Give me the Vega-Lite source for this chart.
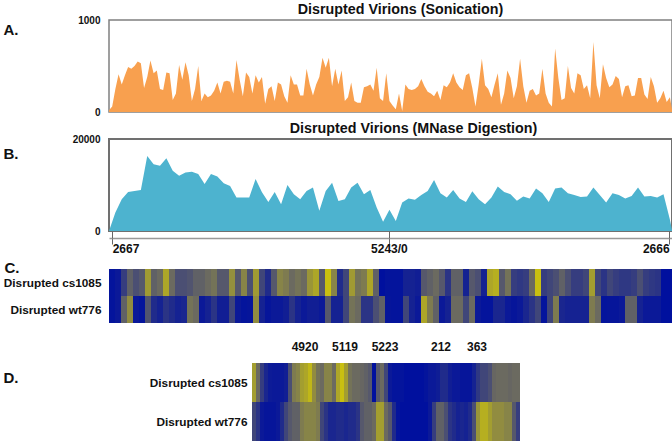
{"$schema":"https://vega.github.io/schema/vega-lite/v6.json","padding":{"left":2,"top":1,"right":1,"bottom":0},"background":"white","spacing":2,"bounds":"full","align":"none","config":{"font":"Liberation Sans","axis":{"labelFontWeight":"bold","labelColor":"#111","titleColor":"#111","grid":false,"labelFont":"Liberation Sans","titleFont":"Liberation Sans"},"title":{"font":"Liberation Sans","fontWeight":"bold","fontSize":14.3,"color":"#111"}},"datasets":{"a":[{"x":-30,"v":20},{"x":0,"v":60},{"x":30,"v":250},{"x":60,"v":410},{"x":90,"v":300},{"x":120,"v":400},{"x":150,"v":490},{"x":180,"v":470},{"x":210,"v":500},{"x":240,"v":550},{"x":270,"v":530},{"x":300,"v":260},{"x":330,"v":380},{"x":360,"v":560},{"x":390,"v":420},{"x":420,"v":450},{"x":450,"v":250},{"x":480,"v":240},{"x":510,"v":430},{"x":540,"v":420},{"x":570,"v":130},{"x":600,"v":200},{"x":630,"v":510},{"x":660,"v":350},{"x":690,"v":540},{"x":720,"v":400},{"x":750,"v":120},{"x":780,"v":250},{"x":810,"v":500},{"x":840,"v":120},{"x":870,"v":200},{"x":900,"v":160},{"x":930,"v":180},{"x":960,"v":230},{"x":990,"v":320},{"x":1020,"v":200},{"x":1050,"v":330},{"x":1080,"v":340},{"x":1110,"v":330},{"x":1140,"v":200},{"x":1170,"v":565},{"x":1200,"v":350},{"x":1230,"v":170},{"x":1260,"v":430},{"x":1290,"v":380},{"x":1320,"v":200},{"x":1350,"v":400},{"x":1380,"v":320},{"x":1410,"v":380},{"x":1440,"v":90},{"x":1470,"v":250},{"x":1500,"v":280},{"x":1530,"v":120},{"x":1560,"v":320},{"x":1590,"v":300},{"x":1620,"v":170},{"x":1650,"v":100},{"x":1680,"v":400},{"x":1710,"v":300},{"x":1740,"v":300},{"x":1770,"v":180},{"x":1800,"v":180},{"x":1830,"v":470},{"x":1860,"v":300},{"x":1890,"v":180},{"x":1920,"v":300},{"x":1950,"v":380},{"x":1980,"v":590},{"x":2010,"v":480},{"x":2040,"v":590},{"x":2070,"v":280},{"x":2100,"v":470},{"x":2130,"v":300},{"x":2160,"v":450},{"x":2190,"v":120},{"x":2220,"v":160},{"x":2250,"v":320},{"x":2280,"v":120},{"x":2310,"v":100},{"x":2340,"v":100},{"x":2370,"v":270},{"x":2400,"v":280},{"x":2430,"v":300},{"x":2460,"v":230},{"x":2490,"v":480},{"x":2520,"v":150},{"x":2550,"v":120},{"x":2580,"v":420},{"x":2610,"v":120},{"x":2640,"v":70},{"x":2670,"v":30},{"x":2700,"v":200},{"x":2730,"v":10},{"x":2760,"v":300},{"x":2790,"v":250},{"x":2820,"v":240},{"x":2850,"v":250},{"x":2880,"v":280},{"x":2910,"v":360},{"x":2940,"v":280},{"x":2970,"v":220},{"x":3000,"v":200},{"x":3030,"v":170},{"x":3060,"v":230},{"x":3090,"v":130},{"x":3120,"v":290},{"x":3150,"v":270},{"x":3180,"v":320},{"x":3210,"v":420},{"x":3240,"v":320},{"x":3270,"v":270},{"x":3300,"v":240},{"x":3330,"v":400},{"x":3360,"v":420},{"x":3390,"v":260},{"x":3420,"v":60},{"x":3450,"v":300},{"x":3480,"v":580},{"x":3510,"v":290},{"x":3540,"v":250},{"x":3570,"v":160},{"x":3600,"v":300},{"x":3630,"v":420},{"x":3660,"v":80},{"x":3690,"v":200},{"x":3720,"v":450},{"x":3750,"v":370},{"x":3780,"v":150},{"x":3810,"v":280},{"x":3840,"v":580},{"x":3870,"v":280},{"x":3900,"v":100},{"x":3930,"v":230},{"x":3960,"v":250},{"x":3990,"v":180},{"x":4020,"v":200},{"x":4050,"v":470},{"x":4080,"v":200},{"x":4110,"v":100},{"x":4140,"v":60},{"x":4170,"v":690},{"x":4200,"v":370},{"x":4230,"v":130},{"x":4260,"v":150},{"x":4290,"v":500},{"x":4320,"v":260},{"x":4350,"v":200},{"x":4380,"v":420},{"x":4410,"v":400},{"x":4440,"v":250},{"x":4470,"v":290},{"x":4500,"v":150},{"x":4530,"v":760},{"x":4560,"v":290},{"x":4590,"v":150},{"x":4620,"v":520},{"x":4650,"v":370},{"x":4680,"v":270},{"x":4710,"v":300},{"x":4740,"v":390},{"x":4770,"v":360},{"x":4800,"v":160},{"x":4830,"v":280},{"x":4860,"v":290},{"x":4890,"v":170},{"x":4920,"v":180},{"x":4950,"v":370},{"x":4980,"v":370},{"x":5010,"v":190},{"x":5040,"v":140},{"x":5070,"v":380},{"x":5100,"v":280},{"x":5130,"v":100},{"x":5160,"v":150},{"x":5190,"v":230},{"x":5220,"v":110},{"x":5250,"v":160},{"x":5270,"v":30}],"b":[{"x":-30,"v":0},{"x":30,"v":4000},{"x":90,"v":6900},{"x":150,"v":8500},{"x":210,"v":8700},{"x":270,"v":8900},{"x":330,"v":16300},{"x":390,"v":14500},{"x":450,"v":14200},{"x":510,"v":15800},{"x":570,"v":13100},{"x":630,"v":12000},{"x":690,"v":12700},{"x":750,"v":12900},{"x":810,"v":12400},{"x":870,"v":10200},{"x":930,"v":12400},{"x":990,"v":11850},{"x":1050,"v":10400},{"x":1110,"v":9800},{"x":1170,"v":7300},{"x":1230,"v":7300},{"x":1290,"v":7300},{"x":1350,"v":11300},{"x":1410,"v":8400},{"x":1470,"v":6300},{"x":1530,"v":8500},{"x":1590,"v":5800},{"x":1650,"v":10000},{"x":1710,"v":8000},{"x":1770,"v":6900},{"x":1830,"v":8700},{"x":1890,"v":9450},{"x":1950,"v":4400},{"x":2010,"v":8700},{"x":2070,"v":10500},{"x":2130,"v":6500},{"x":2190,"v":6900},{"x":2250,"v":9450},{"x":2310,"v":10500},{"x":2370,"v":8000},{"x":2430,"v":8900},{"x":2490,"v":5100},{"x":2550,"v":2000},{"x":2610,"v":4600},{"x":2670,"v":2200},{"x":2730,"v":6200},{"x":2790,"v":7050},{"x":2850,"v":6800},{"x":2910,"v":7800},{"x":2970,"v":8700},{"x":3030,"v":11100},{"x":3090,"v":8200},{"x":3150,"v":7300},{"x":3210,"v":8900},{"x":3270,"v":7050},{"x":3330,"v":6300},{"x":3390,"v":8650},{"x":3450,"v":6900},{"x":3510,"v":5800},{"x":3570,"v":7300},{"x":3630,"v":9700},{"x":3690,"v":8500},{"x":3750,"v":8000},{"x":3810,"v":6550},{"x":3870,"v":7500},{"x":3930,"v":7050},{"x":3990,"v":9250},{"x":4050,"v":8200},{"x":4110,"v":6300},{"x":4170,"v":9250},{"x":4230,"v":9450},{"x":4290,"v":8200},{"x":4350,"v":7800},{"x":4410,"v":7400},{"x":4470,"v":7500},{"x":4530,"v":9450},{"x":4590,"v":7800},{"x":4650,"v":6200},{"x":4710,"v":8200},{"x":4770,"v":7800},{"x":4830,"v":7050},{"x":4890,"v":7600},{"x":4950,"v":9450},{"x":5010,"v":7500},{"x":5070,"v":7600},{"x":5130,"v":7300},{"x":5190,"v":8000},{"x":5250,"v":2500},{"x":5270,"v":200}],"c":[{"r":"Disrupted cs1085","c":0,"v":0.02},{"r":"Disrupted cs1085","c":1,"v":0.05},{"r":"Disrupted cs1085","c":2,"v":0.25},{"r":"Disrupted cs1085","c":3,"v":0.45},{"r":"Disrupted cs1085","c":4,"v":0.35},{"r":"Disrupted cs1085","c":5,"v":0.4},{"r":"Disrupted cs1085","c":6,"v":0.78},{"r":"Disrupted cs1085","c":7,"v":0.45},{"r":"Disrupted cs1085","c":8,"v":0.5},{"r":"Disrupted cs1085","c":9,"v":0.85},{"r":"Disrupted cs1085","c":10,"v":0.5},{"r":"Disrupted cs1085","c":11,"v":0.35},{"r":"Disrupted cs1085","c":12,"v":0.35},{"r":"Disrupted cs1085","c":13,"v":0.38},{"r":"Disrupted cs1085","c":14,"v":0.45},{"r":"Disrupted cs1085","c":15,"v":0.45},{"r":"Disrupted cs1085","c":16,"v":0.5},{"r":"Disrupted cs1085","c":17,"v":0.55},{"r":"Disrupted cs1085","c":18,"v":0.4},{"r":"Disrupted cs1085","c":19,"v":0.4},{"r":"Disrupted cs1085","c":20,"v":0.72},{"r":"Disrupted cs1085","c":21,"v":0.4},{"r":"Disrupted cs1085","c":22,"v":0.65},{"r":"Disrupted cs1085","c":23,"v":0.35},{"r":"Disrupted cs1085","c":24,"v":0.78},{"r":"Disrupted cs1085","c":25,"v":0.3},{"r":"Disrupted cs1085","c":26,"v":0.15},{"r":"Disrupted cs1085","c":27,"v":0.4},{"r":"Disrupted cs1085","c":28,"v":0.65},{"r":"Disrupted cs1085","c":29,"v":0.6},{"r":"Disrupted cs1085","c":30,"v":0.5},{"r":"Disrupted cs1085","c":31,"v":0.55},{"r":"Disrupted cs1085","c":32,"v":0.5},{"r":"Disrupted cs1085","c":33,"v":0.75},{"r":"Disrupted cs1085","c":34,"v":0.85},{"r":"Disrupted cs1085","c":35,"v":0.4},{"r":"Disrupted cs1085","c":36,"v":1},{"r":"Disrupted cs1085","c":37,"v":0.65},{"r":"Disrupted cs1085","c":38,"v":0.15},{"r":"Disrupted cs1085","c":39,"v":0.3},{"r":"Disrupted cs1085","c":40,"v":0.78},{"r":"Disrupted cs1085","c":41,"v":0.55},{"r":"Disrupted cs1085","c":42,"v":0.6},{"r":"Disrupted cs1085","c":43,"v":0.85},{"r":"Disrupted cs1085","c":44,"v":0.45},{"r":"Disrupted cs1085","c":45,"v":0},{"r":"Disrupted cs1085","c":46,"v":0.02},{"r":"Disrupted cs1085","c":47,"v":0.02},{"r":"Disrupted cs1085","c":48,"v":0.02},{"r":"Disrupted cs1085","c":49,"v":0.1},{"r":"Disrupted cs1085","c":50,"v":0.1},{"r":"Disrupted cs1085","c":51,"v":0.08},{"r":"Disrupted cs1085","c":52,"v":0.4},{"r":"Disrupted cs1085","c":53,"v":0.45},{"r":"Disrupted cs1085","c":54,"v":0.5},{"r":"Disrupted cs1085","c":55,"v":0.4},{"r":"Disrupted cs1085","c":56,"v":0.2},{"r":"Disrupted cs1085","c":57,"v":0.45},{"r":"Disrupted cs1085","c":58,"v":0.45},{"r":"Disrupted cs1085","c":59,"v":0.1},{"r":"Disrupted cs1085","c":60,"v":0.4},{"r":"Disrupted cs1085","c":61,"v":0.35},{"r":"Disrupted cs1085","c":62,"v":0.1},{"r":"Disrupted cs1085","c":63,"v":0.85},{"r":"Disrupted cs1085","c":64,"v":0.9},{"r":"Disrupted cs1085","c":65,"v":0.4},{"r":"Disrupted cs1085","c":66,"v":0.55},{"r":"Disrupted cs1085","c":67,"v":0.25},{"r":"Disrupted cs1085","c":68,"v":0.22},{"r":"Disrupted cs1085","c":69,"v":0.25},{"r":"Disrupted cs1085","c":70,"v":0.5},{"r":"Disrupted cs1085","c":71,"v":1},{"r":"Disrupted cs1085","c":72,"v":0.25},{"r":"Disrupted cs1085","c":73,"v":0.3},{"r":"Disrupted cs1085","c":74,"v":0.35},{"r":"Disrupted cs1085","c":75,"v":0.45},{"r":"Disrupted cs1085","c":76,"v":0.35},{"r":"Disrupted cs1085","c":77,"v":0.25},{"r":"Disrupted cs1085","c":78,"v":0.25},{"r":"Disrupted cs1085","c":79,"v":0.3},{"r":"Disrupted cs1085","c":80,"v":0.8},{"r":"Disrupted cs1085","c":81,"v":0.3},{"r":"Disrupted cs1085","c":82,"v":0.2},{"r":"Disrupted cs1085","c":83,"v":0.3},{"r":"Disrupted cs1085","c":84,"v":0.25},{"r":"Disrupted cs1085","c":85,"v":0.22},{"r":"Disrupted cs1085","c":86,"v":0.22},{"r":"Disrupted cs1085","c":87,"v":0.25},{"r":"Disrupted cs1085","c":88,"v":0.35},{"r":"Disrupted cs1085","c":89,"v":0.25},{"r":"Disrupted cs1085","c":90,"v":0.22},{"r":"Disrupted cs1085","c":91,"v":0.2},{"r":"Disrupted cs1085","c":92,"v":0},{"r":"Disrupted cs1085","c":93,"v":0},{"r":"Disrupted wt776","c":0,"v":0.02},{"r":"Disrupted wt776","c":1,"v":0.05},{"r":"Disrupted wt776","c":2,"v":0.45},{"r":"Disrupted wt776","c":3,"v":0.7},{"r":"Disrupted wt776","c":4,"v":0.05},{"r":"Disrupted wt776","c":5,"v":0.02},{"r":"Disrupted wt776","c":6,"v":0.38},{"r":"Disrupted wt776","c":7,"v":0.15},{"r":"Disrupted wt776","c":8,"v":0.1},{"r":"Disrupted wt776","c":9,"v":0.2},{"r":"Disrupted wt776","c":10,"v":0.15},{"r":"Disrupted wt776","c":11,"v":0.1},{"r":"Disrupted wt776","c":12,"v":0.12},{"r":"Disrupted wt776","c":13,"v":0.55},{"r":"Disrupted wt776","c":14,"v":0.5},{"r":"Disrupted wt776","c":15,"v":0.05},{"r":"Disrupted wt776","c":16,"v":0.1},{"r":"Disrupted wt776","c":17,"v":0.2},{"r":"Disrupted wt776","c":18,"v":0.08},{"r":"Disrupted wt776","c":19,"v":0.08},{"r":"Disrupted wt776","c":20,"v":0.3},{"r":"Disrupted wt776","c":21,"v":0.05},{"r":"Disrupted wt776","c":22,"v":0.02},{"r":"Disrupted wt776","c":23,"v":0.03},{"r":"Disrupted wt776","c":24,"v":0.7},{"r":"Disrupted wt776","c":25,"v":0.1},{"r":"Disrupted wt776","c":26,"v":0.03},{"r":"Disrupted wt776","c":27,"v":0.05},{"r":"Disrupted wt776","c":28,"v":0.05},{"r":"Disrupted wt776","c":29,"v":0.08},{"r":"Disrupted wt776","c":30,"v":0.2},{"r":"Disrupted wt776","c":31,"v":0.1},{"r":"Disrupted wt776","c":32,"v":0.05},{"r":"Disrupted wt776","c":33,"v":0.08},{"r":"Disrupted wt776","c":34,"v":0.08},{"r":"Disrupted wt776","c":35,"v":0.05},{"r":"Disrupted wt776","c":36,"v":0.4},{"r":"Disrupted wt776","c":37,"v":0.1},{"r":"Disrupted wt776","c":38,"v":0.1},{"r":"Disrupted wt776","c":39,"v":0.3},{"r":"Disrupted wt776","c":40,"v":0.55},{"r":"Disrupted wt776","c":41,"v":0.5},{"r":"Disrupted wt776","c":42,"v":0.2},{"r":"Disrupted wt776","c":43,"v":0.2},{"r":"Disrupted wt776","c":44,"v":0.35},{"r":"Disrupted wt776","c":45,"v":0.45},{"r":"Disrupted wt776","c":46,"v":0.03},{"r":"Disrupted wt776","c":47,"v":0.02},{"r":"Disrupted wt776","c":48,"v":0.02},{"r":"Disrupted wt776","c":49,"v":0.3},{"r":"Disrupted wt776","c":50,"v":0.1},{"r":"Disrupted wt776","c":51,"v":0.05},{"r":"Disrupted wt776","c":52,"v":0.85},{"r":"Disrupted wt776","c":53,"v":0.6},{"r":"Disrupted wt776","c":54,"v":0.45},{"r":"Disrupted wt776","c":55,"v":0.05},{"r":"Disrupted wt776","c":56,"v":0.1},{"r":"Disrupted wt776","c":57,"v":0.5},{"r":"Disrupted wt776","c":58,"v":0.5},{"r":"Disrupted wt776","c":59,"v":0.3},{"r":"Disrupted wt776","c":60,"v":0.5},{"r":"Disrupted wt776","c":61,"v":0.05},{"r":"Disrupted wt776","c":62,"v":0.02},{"r":"Disrupted wt776","c":63,"v":0.02},{"r":"Disrupted wt776","c":64,"v":0.12},{"r":"Disrupted wt776","c":65,"v":0.12},{"r":"Disrupted wt776","c":66,"v":0.05},{"r":"Disrupted wt776","c":67,"v":0.03},{"r":"Disrupted wt776","c":68,"v":0.05},{"r":"Disrupted wt776","c":69,"v":0.12},{"r":"Disrupted wt776","c":70,"v":0.2},{"r":"Disrupted wt776","c":71,"v":0.3},{"r":"Disrupted wt776","c":72,"v":0.02},{"r":"Disrupted wt776","c":73,"v":0.3},{"r":"Disrupted wt776","c":74,"v":0.6},{"r":"Disrupted wt776","c":75,"v":0.12},{"r":"Disrupted wt776","c":76,"v":0.1},{"r":"Disrupted wt776","c":77,"v":0.1},{"r":"Disrupted wt776","c":78,"v":0.1},{"r":"Disrupted wt776","c":79,"v":0.1},{"r":"Disrupted wt776","c":80,"v":0.6},{"r":"Disrupted wt776","c":81,"v":0.5},{"r":"Disrupted wt776","c":82,"v":0.02},{"r":"Disrupted wt776","c":83,"v":0.03},{"r":"Disrupted wt776","c":84,"v":0.03},{"r":"Disrupted wt776","c":85,"v":0.05},{"r":"Disrupted wt776","c":86,"v":0.45},{"r":"Disrupted wt776","c":87,"v":0.45},{"r":"Disrupted wt776","c":88,"v":0.1},{"r":"Disrupted wt776","c":89,"v":0.05},{"r":"Disrupted wt776","c":90,"v":0.05},{"r":"Disrupted wt776","c":91,"v":0.05},{"r":"Disrupted wt776","c":92,"v":0},{"r":"Disrupted wt776","c":93,"v":0}],"d":[{"r":"Disrupted cs1085","c":0,"v":0.8},{"r":"Disrupted cs1085","c":1,"v":0.5},{"r":"Disrupted cs1085","c":2,"v":0.25},{"r":"Disrupted cs1085","c":3,"v":0.12},{"r":"Disrupted cs1085","c":4,"v":0.06},{"r":"Disrupted cs1085","c":5,"v":0.05},{"r":"Disrupted cs1085","c":6,"v":0.05},{"r":"Disrupted cs1085","c":7,"v":0.05},{"r":"Disrupted cs1085","c":8,"v":0.08},{"r":"Disrupted cs1085","c":9,"v":0.35},{"r":"Disrupted cs1085","c":10,"v":0.6},{"r":"Disrupted cs1085","c":11,"v":0.65},{"r":"Disrupted cs1085","c":12,"v":0.8},{"r":"Disrupted cs1085","c":13,"v":0.85},{"r":"Disrupted cs1085","c":14,"v":0.95},{"r":"Disrupted cs1085","c":15,"v":0.7},{"r":"Disrupted cs1085","c":16,"v":0.55},{"r":"Disrupted cs1085","c":17,"v":0.5},{"r":"Disrupted cs1085","c":18,"v":0.65},{"r":"Disrupted cs1085","c":19,"v":0.65},{"r":"Disrupted cs1085","c":20,"v":0.5},{"r":"Disrupted cs1085","c":21,"v":0.85},{"r":"Disrupted cs1085","c":22,"v":1},{"r":"Disrupted cs1085","c":23,"v":0.8},{"r":"Disrupted cs1085","c":24,"v":0.55},{"r":"Disrupted cs1085","c":25,"v":0.5},{"r":"Disrupted cs1085","c":26,"v":0.5},{"r":"Disrupted cs1085","c":27,"v":0.48},{"r":"Disrupted cs1085","c":28,"v":0.45},{"r":"Disrupted cs1085","c":29,"v":0.4},{"r":"Disrupted cs1085","c":30,"v":0},{"r":"Disrupted cs1085","c":31,"v":0.4},{"r":"Disrupted cs1085","c":32,"v":0.5},{"r":"Disrupted cs1085","c":33,"v":0.3},{"r":"Disrupted cs1085","c":34,"v":0.05},{"r":"Disrupted cs1085","c":35,"v":0.02},{"r":"Disrupted cs1085","c":36,"v":0.02},{"r":"Disrupted cs1085","c":37,"v":0.02},{"r":"Disrupted cs1085","c":38,"v":0},{"r":"Disrupted cs1085","c":39,"v":0},{"r":"Disrupted cs1085","c":40,"v":0},{"r":"Disrupted cs1085","c":41,"v":0},{"r":"Disrupted cs1085","c":42,"v":0},{"r":"Disrupted cs1085","c":43,"v":0.02},{"r":"Disrupted cs1085","c":44,"v":0.05},{"r":"Disrupted cs1085","c":45,"v":0.05},{"r":"Disrupted cs1085","c":46,"v":0.07},{"r":"Disrupted cs1085","c":47,"v":0.15},{"r":"Disrupted cs1085","c":48,"v":0.15},{"r":"Disrupted cs1085","c":49,"v":0.08},{"r":"Disrupted cs1085","c":50,"v":0.05},{"r":"Disrupted cs1085","c":51,"v":0.05},{"r":"Disrupted cs1085","c":52,"v":0.03},{"r":"Disrupted cs1085","c":53,"v":0.03},{"r":"Disrupted cs1085","c":54,"v":0.03},{"r":"Disrupted cs1085","c":55,"v":0.1},{"r":"Disrupted cs1085","c":56,"v":0.22},{"r":"Disrupted cs1085","c":57,"v":0.3},{"r":"Disrupted cs1085","c":58,"v":0.3},{"r":"Disrupted cs1085","c":59,"v":0.35},{"r":"Disrupted cs1085","c":60,"v":0.48},{"r":"Disrupted cs1085","c":61,"v":0.5},{"r":"Disrupted cs1085","c":62,"v":0.5},{"r":"Disrupted cs1085","c":63,"v":0.5},{"r":"Disrupted cs1085","c":64,"v":0.48},{"r":"Disrupted cs1085","c":65,"v":0.5},{"r":"Disrupted cs1085","c":66,"v":0.5},{"r":"Disrupted wt776","c":0,"v":0.3},{"r":"Disrupted wt776","c":1,"v":0.2},{"r":"Disrupted wt776","c":2,"v":0.05},{"r":"Disrupted wt776","c":3,"v":0.03},{"r":"Disrupted wt776","c":4,"v":0.03},{"r":"Disrupted wt776","c":5,"v":0.03},{"r":"Disrupted wt776","c":6,"v":0.05},{"r":"Disrupted wt776","c":7,"v":0.15},{"r":"Disrupted wt776","c":8,"v":0.3},{"r":"Disrupted wt776","c":9,"v":0.4},{"r":"Disrupted wt776","c":10,"v":0.45},{"r":"Disrupted wt776","c":11,"v":0.45},{"r":"Disrupted wt776","c":12,"v":0.6},{"r":"Disrupted wt776","c":13,"v":0.65},{"r":"Disrupted wt776","c":14,"v":0.65},{"r":"Disrupted wt776","c":15,"v":0.65},{"r":"Disrupted wt776","c":16,"v":0.6},{"r":"Disrupted wt776","c":17,"v":0.3},{"r":"Disrupted wt776","c":18,"v":0.2},{"r":"Disrupted wt776","c":19,"v":0.12},{"r":"Disrupted wt776","c":20,"v":0.12},{"r":"Disrupted wt776","c":21,"v":0.15},{"r":"Disrupted wt776","c":22,"v":0.15},{"r":"Disrupted wt776","c":23,"v":0.12},{"r":"Disrupted wt776","c":24,"v":0.15},{"r":"Disrupted wt776","c":25,"v":0.15},{"r":"Disrupted wt776","c":26,"v":0.2},{"r":"Disrupted wt776","c":27,"v":0.4},{"r":"Disrupted wt776","c":28,"v":0.45},{"r":"Disrupted wt776","c":29,"v":0.45},{"r":"Disrupted wt776","c":30,"v":0.5},{"r":"Disrupted wt776","c":31,"v":0.8},{"r":"Disrupted wt776","c":32,"v":0.8},{"r":"Disrupted wt776","c":33,"v":0.5},{"r":"Disrupted wt776","c":34,"v":0.4},{"r":"Disrupted wt776","c":35,"v":0.15},{"r":"Disrupted wt776","c":36,"v":0.02},{"r":"Disrupted wt776","c":37,"v":0},{"r":"Disrupted wt776","c":38,"v":0},{"r":"Disrupted wt776","c":39,"v":0},{"r":"Disrupted wt776","c":40,"v":0},{"r":"Disrupted wt776","c":41,"v":0},{"r":"Disrupted wt776","c":42,"v":0},{"r":"Disrupted wt776","c":43,"v":0},{"r":"Disrupted wt776","c":44,"v":0.05},{"r":"Disrupted wt776","c":45,"v":0.25},{"r":"Disrupted wt776","c":46,"v":0.45},{"r":"Disrupted wt776","c":47,"v":0.45},{"r":"Disrupted wt776","c":48,"v":0.35},{"r":"Disrupted wt776","c":49,"v":0.2},{"r":"Disrupted wt776","c":50,"v":0.15},{"r":"Disrupted wt776","c":51,"v":0.1},{"r":"Disrupted wt776","c":52,"v":0.12},{"r":"Disrupted wt776","c":53,"v":0.1},{"r":"Disrupted wt776","c":54,"v":0.15},{"r":"Disrupted wt776","c":55,"v":0.35},{"r":"Disrupted wt776","c":56,"v":0.75},{"r":"Disrupted wt776","c":57,"v":0.9},{"r":"Disrupted wt776","c":58,"v":0.9},{"r":"Disrupted wt776","c":59,"v":0.8},{"r":"Disrupted wt776","c":60,"v":0.7},{"r":"Disrupted wt776","c":61,"v":0.7},{"r":"Disrupted wt776","c":62,"v":0.7},{"r":"Disrupted wt776","c":63,"v":0.65},{"r":"Disrupted wt776","c":64,"v":0.65},{"r":"Disrupted wt776","c":65,"v":0.4},{"r":"Disrupted wt776","c":66,"v":0.25}]},"vconcat":[{"width":563,"height":92,"view":{"stroke":"#808080","strokeWidth":1.5},"title":{"text":"Disrupted Virions (Sonication)","dx":10,"offset":-2},"data":{"name":"a"},"mark":{"type":"area","color":"#f8a04f","clip":true},"encoding":{"x":{"field":"x","type":"quantitative","scale":{"domain":[-30,5270],"nice":false},"axis":null},"y":{"field":"v","type":"quantitative","scale":{"domain":[0,1000],"nice":false},"axis":{"title":"A.","titleAngle":0,"titleX":-106,"titleY":9,"titleAlign":"left","titleBaseline":"middle","titleFontSize":15,"titleFontWeight":"bold","values":[0,1000],"format":"d","domain":false,"ticks":false,"labelPadding":9,"labelFontSize":10}}}},{"width":563,"height":92,"view":{"stroke":"#707070","strokeWidth":2},"title":{"text":"Disrupted Virions (MNase Digestion)","dx":23,"offset":-2},"data":{"name":"b"},"layer":[{"mark":{"type":"area","color":"#4db3cf","clip":true},"encoding":{"x":{"field":"x","type":"quantitative","scale":{"domain":[-30,5270],"nice":false},"axis":{"orient":"bottom","title":null,"values":[0,2605,5243],"labelExpr":"datum.value==0?'2667':datum.value==5243?'2666':'5243/0'","labelAlign":{"expr":"datum.value==0?'left':datum.value==5243?'right':'center'"},"offset":7,"tickSize":6,"tickColor":"#666","domainColor":"#999999","domainWidth":1.5,"labelPadding":-1,"labelFontSize":12,"labelAngle":0,"labelFlush":false}},"y":{"field":"v","type":"quantitative","scale":{"domain":[0,20000],"nice":false},"axis":{"title":"B.","titleAngle":0,"titleX":-106,"titleY":14,"titleAlign":"left","titleBaseline":"middle","titleFontSize":15,"titleFontWeight":"bold","values":[0,20000],"format":"d","domain":false,"ticks":false,"labelPadding":9,"labelFontSize":10}}}},{"mark":{"type":"area","opacity":0},"encoding":{"x":{"field":"x","type":"quantitative","scale":{"domain":[-30,5270],"nice":false},"axis":{"orient":"bottom","title":null,"values":[0,2605,5243],"labels":false,"domain":false,"tickSize":7,"tickColor":"#666"}},"y":{"field":"v","type":"quantitative"}}}],"resolve":{"axis":{"x":"independent"}}},{"width":564,"height":54,"data":{"name":"c"},"view":{"stroke":null},"mark":{"type":"rect"},"encoding":{"x":{"field":"c","type":"ordinal","axis":{"orient":"top","labels":false,"ticks":false,"domain":false,"title":null,"minExtent":12}},"y":{"field":"r","type":"nominal","sort":null,"axis":{"title":"C.","titleAngle":0,"titleX":-105,"titleY":-2,"titleAlign":"left","titleBaseline":"middle","titleFontSize":15,"titleFontWeight":"bold","domain":false,"ticks":false,"labelPadding":8,"labelFontSize":11.8}},"color":{"field":"v","type":"quantitative","legend":null,"scale":{"domain":[0,0.5,1],"range":["#00109e","#6b6a60","#c9c010"],"interpolate":"rgb"}}}},{"spacing":0,"bounds":"full","align":"none","hconcat":[{"width":40,"height":78,"data":{"name":"d"},"view":{"stroke":null},"mark":{"type":"rect","opacity":0},"encoding":{"y":{"field":"r","type":"nominal","sort":null,"axis":{"title":"D.","titleAngle":0,"titleX":-106,"titleY":14,"titleAlign":"left","titleBaseline":"middle","titleFontSize":15,"titleFontWeight":"bold","labels":false,"domain":false,"ticks":false}}}},{"width":268,"height":78,"data":{"name":"d"},"view":{"stroke":null},"mark":{"type":"rect"},"encoding":{"x":{"field":"c","type":"ordinal","axis":{"orient":"top","values":[13,23,33,47,56],"labelExpr":"datum.value==13?'4920':datum.value==23?'5119':datum.value==33?'5223':datum.value==47?'212':'363'","ticks":false,"domain":false,"title":null,"labelAngle":0,"labelFontSize":12,"labelOffset":-1,"labelPadding":10,"minExtent":38}},"y":{"field":"r","type":"nominal","sort":null,"axis":{"title":null,"domain":false,"ticks":false,"labelPadding":5,"labelFontSize":11.8}},"color":{"field":"v","type":"quantitative","legend":null,"scale":{"domain":[0,0.5,1],"range":["#00109e","#6b6a60","#c9c010"],"interpolate":"rgb"}}}}]}]}
